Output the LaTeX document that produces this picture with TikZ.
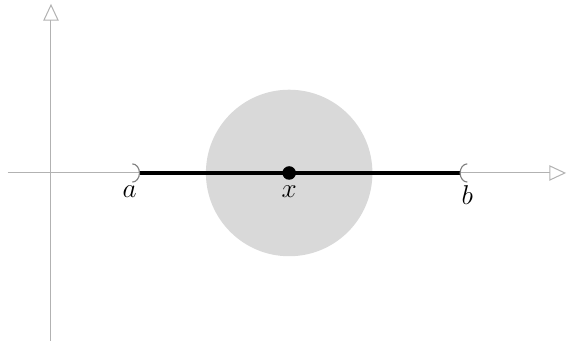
\documentclass[tikz,border=0pt]{standalone}
\usepackage{amsmath}
\usepackage{tikz}
\usetikzlibrary{arrows.meta, positioning}

\begin{document}
\begin{tikzpicture}[
        % Define styles
        axis/.style={-{Triangle[open, length=2.6mm, width=2.4mm]}, gray!60, line width=0.45pt},
        ball/.style={fill=gray!30, draw=none},
        segment/.style={{Arc Barb[reversed, gray, line width=0.5pt, length=1.2mm, width=3mm]}-{Arc Barb[reversed, gray, line width=0.5pt, length=1.2mm, width=3mm]}, line width=1.5pt, black},
        dot/.style={circle, fill=black, inner sep=0pt, minimum size=2.1mm},
        lbl/.style={below, inner sep=1pt, font=\large}
    ]

    % fixed frame
    \useasboundingbox (-0.79,-2.60) rectangle (8.01,2.68);

    % 1. Axes end points
    \coordinate (xl) at (-0.67, 0);
    \coordinate (xr) at (7.98, 0);
    \coordinate (yb) at (0, -2.62);
    \coordinate (yt) at (0, 2.62);

    % 2. Neighbourhood of x
    \coordinate (x) at (3.69, 0);
    \fill[ball] (x) circle (1.29);

    % 3. Axes
    \draw[axis] (xl) -- (xr);
    \draw[axis] (yb) -- (yt);

    % 4. Open interval (a, b)
    \coordinate (a) at (1.26, 0);
    \coordinate (b) at (6.45, 0);
    \draw[segment] (a) -- (b);
    \node[dot] (xdot) at (x) {};

    % Labels
    \node[lbl] (la) at ([xshift=-0.04cm, yshift=-0.16cm]a) {$a$};
    \node[lbl] (lx) at ([yshift=-0.16cm]x) {$x$};
    \node[lbl] (lb) at ([yshift=-0.16cm]b) {$b$};

\end{tikzpicture}
\end{document}
